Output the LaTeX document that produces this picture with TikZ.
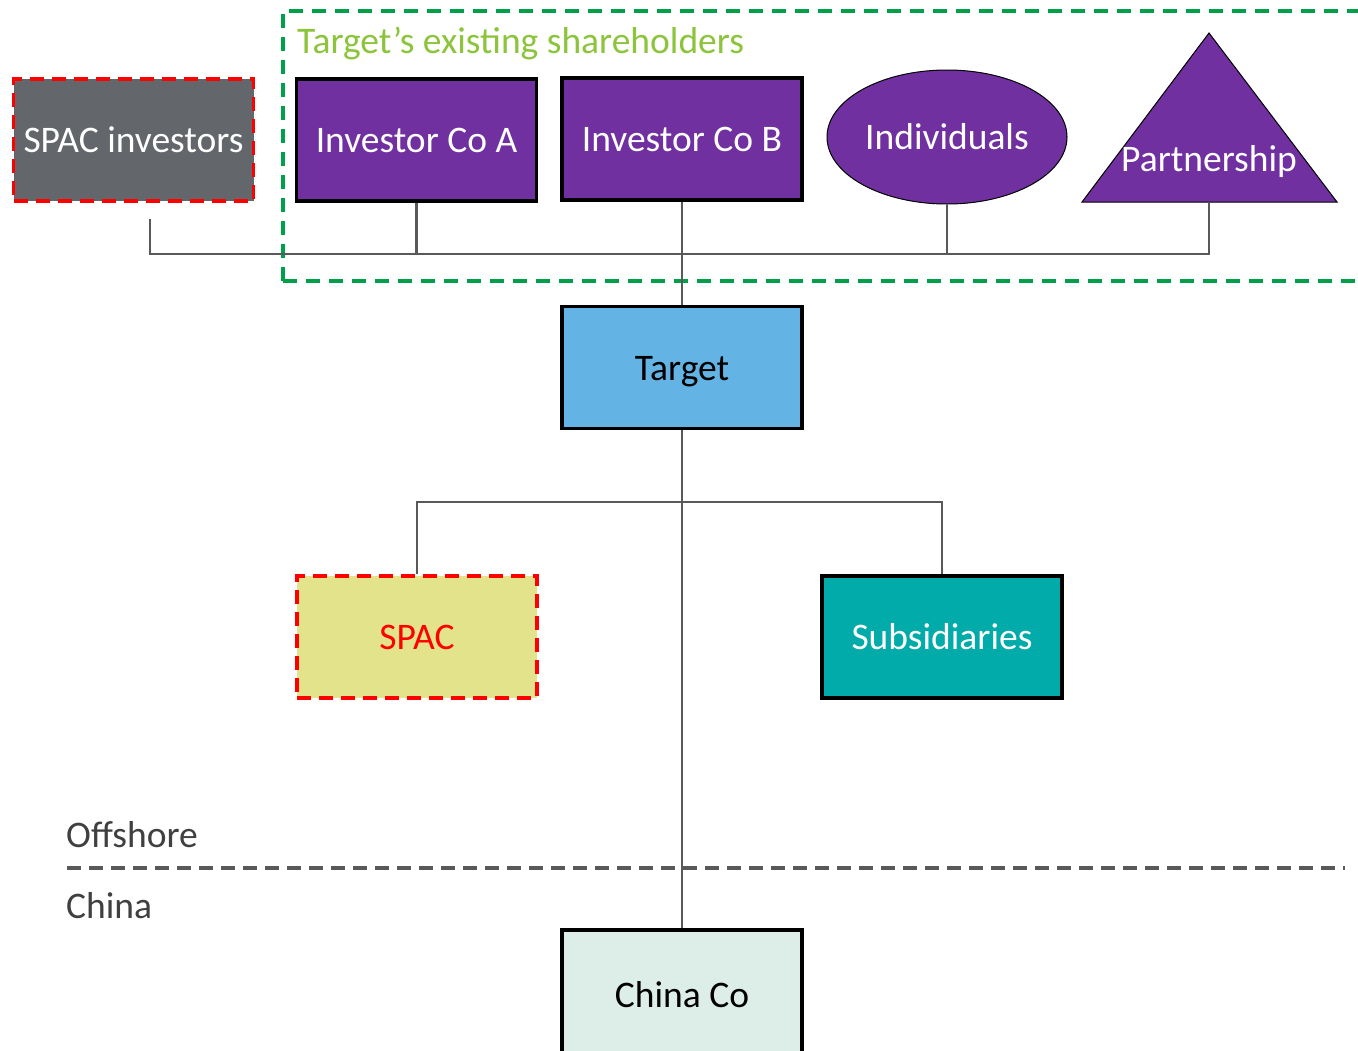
\documentclass[tikz,border=0pt]{standalone}
\usepackage{fontspec}
\setmainfont{Carlito}
\usetikzlibrary{shapes.geometric}
\definecolor{purp}{HTML}{7030A0}
\definecolor{spacgray}{HTML}{63666A}
\definecolor{targetblue}{HTML}{63B4E4}
\definecolor{spacyellow}{HTML}{E3E38C}
\definecolor{teal}{HTML}{00ABA9}
\definecolor{chinafill}{HTML}{DDEEE8}
\definecolor{dashgreen}{HTML}{00A04A}
\definecolor{titlegreen}{HTML}{8CC43C}
\definecolor{connector}{HTML}{595959}
\definecolor{labelgray}{HTML}{404040}
\definecolor{dividergray}{HTML}{595959}
\tikzset{
  bigfont/.style={font=\fontsize{37.5}{45}\selectfont},
  entity/.style={rectangle, minimum width=240pt, minimum height=122pt, inner sep=0pt, bigfont},
  solidbox/.style={entity, draw=black, line width=3.5pt},
  redbox/.style={entity, draw=red, line width=3.5pt, dash pattern=on 14pt off 8pt},
  conn/.style={draw=connector, line width=2.2pt},
  lbl/.style={bigfont, inner sep=0pt},
  groupline/.style={dashgreen, line width=3.5pt, dash pattern=on 14pt off 9pt}
}
\begin{document}
\begin{tikzpicture}[x=1pt, y=-1pt]
\clip (0,0) rectangle (1358,1050);
\fill[white] (0,0) rectangle (1358,1050);

% group frame for existing shareholders
\draw[groupline] (283,281) -- (283,11) -- (1380,11);
\draw[groupline] (283,281) -- (1380,281);
\node[lbl, text=titlegreen, anchor=west] (title) at (297,43) {Target’s existing shareholders};

% shareholders
\node[redbox, fill=spacgray, text=white] (spacinv) at (133.5,140) {SPAC investors};
\node[solidbox, fill=purp, text=white] (coa) at (416.5,140) {Investor Co A};
\node[solidbox, fill=purp, text=white] (cob) at (682,139) {Investor Co B};
\node[ellipse, draw=black, line width=1pt, fill=purp, text=white, minimum width=240pt,
      minimum height=134pt, inner sep=0pt, bigfont] (ind) at (947,137) {Individuals};
\fill[purp] (1209,33) -- (1337,202) -- (1082,202) -- cycle;
\draw[black, line width=1pt, line join=miter] (1209,33) -- (1337,202) -- (1082,202) -- cycle;
\node[lbl, text=white] (partner) at (1209,161) {Partnership};
\coordinate (partnerbase) at (1209,202);
\coordinate (sitail) at (150,219);

% target and its holdings
\node[solidbox, fill=targetblue, text=black] (target) at (682,367.5) {\raisebox{-4pt}[\height][\depth]{Target}};
\node[redbox, fill=spacyellow, text=red] (spac) at (417,637) {SPAC};
\node[solidbox, fill=teal, text=white] (subs) at (942,637) {Subsidiaries};
\node[solidbox, fill=chinafill, text=black, minimum height=130pt] (china) at (682,995) {China Co};

% ownership lines
\coordinate (bus) at (682,254);
\coordinate (bustwo) at (682,502);
\draw[conn] (target.south) -- (china.north);
\draw[conn] (spac.north) -- (spac.north |- bustwo) -- (subs.north |- bustwo) -- (subs.north);
\draw[conn] (sitail) -- (sitail |- bus) -- (partnerbase |- bus) -- (partnerbase);
\draw[conn] (coa.south) -- (coa.south |- bus);
\draw[conn] (ind.south) -- (ind.south |- bus);
\draw[conn] (cob.south) -- (target.north);

% jurisdiction divider
\node[lbl, text=labelgray, anchor=west] (offshore) at (66,835) {Offshore};
\node[lbl, text=labelgray, anchor=west] (chinalbl) at (66,906) {China};
\coordinate (divl) at (67,868);
\coordinate (divr) at (1345,868);
\draw[dividergray, line width=3.5pt, dash pattern=on 14pt off 8pt] (divl) -- (divr);
\end{tikzpicture}
\end{document}
